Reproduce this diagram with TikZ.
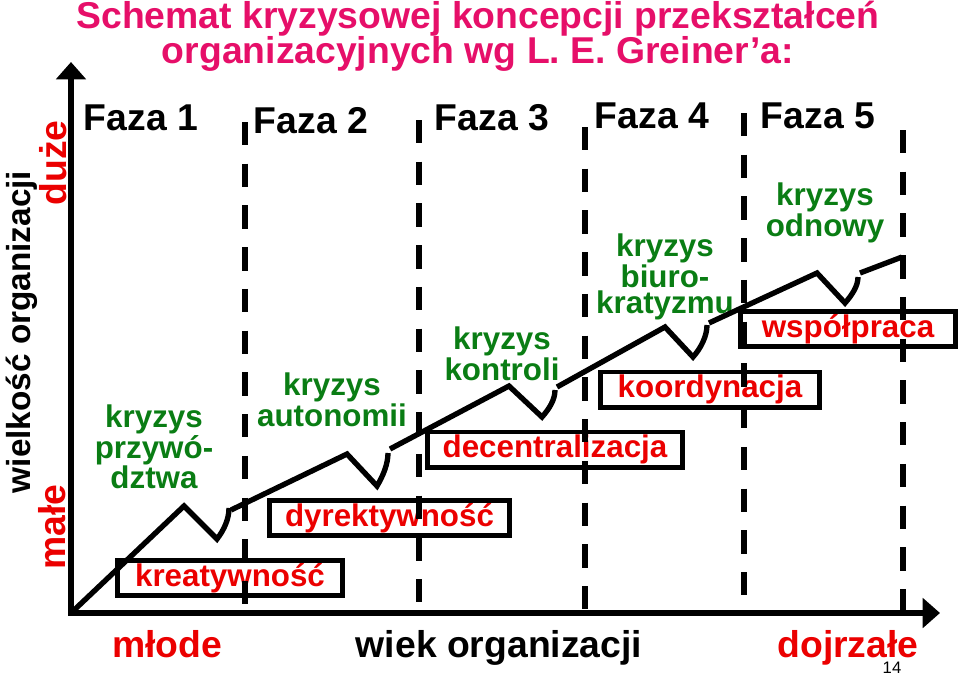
\documentclass[tikz,border=0pt]{standalone}
\usepackage{fontspec}
\setmainfont{Liberation Sans}
\usetikzlibrary{arrows.meta}
\definecolor{tytul}{RGB}{230,15,105}
\definecolor{czerw}{RGB}{235,0,0}
\definecolor{ziel}{RGB}{10,125,20}
\begin{document}
\begin{tikzpicture}[x=0.75pt,y=-0.75pt,
  >={Triangle[length=13pt,width=22pt]},
  os/.style={line width=4.5pt},
  faza/.style={line width=4.5pt,dash pattern=on 17.5pt off 13.8pt},
  linia/.style={line width=4pt},
  duzy/.style={font=\bfseries\fontsize{28}{30}\selectfont},
  kryzys/.style={text=ziel,align=center,inner sep=0pt,font=\bfseries\fontsize{23.5}{19.5}\selectfont},
  styl/.style={draw,line width=3.5pt,text=czerw,minimum height=26.5pt,inner sep=0pt,font=\bfseries\fontsize{23.5}{28}\selectfont}]
  \useasboundingbox (0,0) rectangle (960,676);
  \node[duzy,text=tytul,anchor=base](T1) at (478,28) {Schemat kryzysowej koncepcji przekształceń};
  \node[duzy,text=tytul,anchor=base](T2) at (478,63) {organizacyjnych wg L. E. Greiner’a:};
  \node[duzy,anchor=base](F1) at (141,130) {Faza 1};
  \node[duzy,anchor=base](F2) at (311,133) {Faza 2};
  \node[duzy,anchor=base](F3) at (492,130) {Faza 3};
  \node[duzy,anchor=base](F4) at (652,128) {Faza 4};
  \node[duzy,anchor=base](F5) at (818,128) {Faza 5};
  \node[duzy,rotate=90,font=\bfseries\fontsize{25}{27}\selectfont](V) at (22,332) {wielkość organizacji};
  \node[duzy,text=czerw,rotate=90](Vm) at (52,527) {małe};
  \node[duzy,text=czerw,rotate=90](Vd) at (53,163) {duże};
  \node[duzy,text=czerw,anchor=base](M) at (167,657) {młode};
  \node[duzy,anchor=base](W) at (499,657) {wiek organizacji};
  \node[duzy,text=czerw,anchor=base](D) at (848,657) {dojrzałe};
  \node[anchor=base,inner sep=0pt,font=\fontsize{12.5}{14}\selectfont](N) at (892,673) {14};
  \node[kryzys](K1) at (154,447) {kryzys\\przywó-\\dztwa};
  \node[kryzys](K2) at (332,400) {kryzys\\autonomii};
  \node[kryzys](K3) at (502,354) {kryzys\\kontroli};
  \node[kryzys](K4) at (665,277) {kryzys\\biuro-\\kratyzmu};
  \node[kryzys](K5) at (825,213) {kryzys\\odnowy};
  \node[styl,minimum width=169pt](S1) at (230,578) {kreatywność};
  \node[styl,minimum width=180pt](S2) at (389.5,518) {dyrektywność};
  \node[styl,minimum width=191.5pt](S3) at (555,449.5) {decentralizacja};
  \node[styl,minimum width=164.5pt](S4) at (710,389.5) {koordynacja};
  \node[styl,minimum width=161.5pt](S5) at (848,329) {współpraca};
  \coordinate (O) at (71,613);
  \coordinate (Y) at (71,62);
  \coordinate (X) at (940,613);
  \draw[os,<->] (Y) -- (O) -- (X);
  \draw[linia] (O) -- (184,506) -- (217,539) .. controls (224,530) and (229,519) .. (229,508);
  \draw[linia] (231,510) -- (347,454) -- (377,486) .. controls (383,476) and (388,464) .. (388,453);
  \draw[linia] (390,449) -- (509,386) -- (542,417) .. controls (549,409) and (555,400) .. (555,390);
  \draw[linia] (557,387) -- (665,327) -- (693,357) .. controls (701,348) and (707,336) .. (707,325);
  \draw[linia] (709,323) -- (817,273) -- (845,303) .. controls (852,295) and (858,286) .. (858,277);
  \draw[linia] (860,273) -- (902,257);
  \draw[faza] (245,122) -- (245,604);
  \draw[faza] (419,120) -- (419,602);
  \draw[faza] (585,127) -- (585,609);
  \draw[faza] (744,113) -- (744,595);
  \draw[faza] (903,130) -- (903,612);
\end{tikzpicture}
\end{document}
